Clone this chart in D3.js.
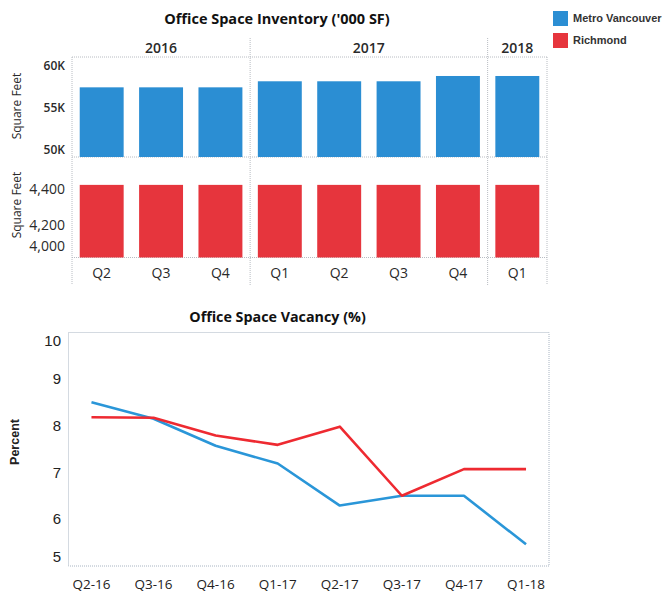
<!DOCTYPE html>
<html>
<head>
<meta charset="utf-8">
<script src="https://cdn.jsdelivr.net/npm/d3@7"></script>
<style>
  html, body { margin: 0; padding: 0; background: #fff; }
  svg { display: block; }
</style>
</head>
<body>
<svg id="chart" width="662" height="592"></svg>
<script>
// ---- Data ----
const quarters = ["Q2", "Q3", "Q4", "Q1", "Q2", "Q3", "Q4", "Q1"];
const quarterYears = ["2016", "2016", "2016", "2017", "2017", "2017", "2017", "2018"];
const yearGroups = ["2016", "2017", "2018"];
const metroInventory = [57460, 57460, 57460, 58180, 58180, 58180, 58810, 58810];
const richmondInventory = [4424, 4424, 4424, 4424, 4424, 4424, 4424, 4424];
const metroTicks = [50000, 55000, 60000];
const richmondTicks = [4000, 4200, 4400];

const periods = ["Q2-16", "Q3-16", "Q4-16", "Q1-17", "Q2-17", "Q3-17", "Q4-17", "Q1-18"];
const metroVacancy = [8.5, 8.15, 7.57, 7.19, 6.29, 6.5, 6.5, 5.46];
const richmondVacancy = [8.18, 8.17, 7.79, 7.59, 7.98, 6.5, 7.07, 7.07];
const vacancyTicks = [5, 6, 7, 8, 9, 10];

const seriesNames = ["Metro Vancouver", "Richmond"];

// ---- Style ----
const BLUE = "#2b8ed3", RED = "#e6353d";
const LINE_BLUE = "#2a96d8", LINE_RED = "#ee2a31";
const TXT = "#2a2a2a";
const GRID = "#b8bcc2";
const SANS = "'Open Sans', sans-serif";
const ARIAL = "'Liberation Sans', Arial, sans-serif";

const svg = d3.select("#chart");

// ================= Top chart: inventory =================
const L = 72, R = 547;
const topY0 = 57, midY = 157, botY = 257.5;

svg.append("text").attr("x", 277).attr("y", 24)
  .attr("text-anchor", "middle").attr("font-family", SANS).attr("font-weight", 700)
  .attr("font-size", 14.5).attr("fill", "#111")
  .text("Office Space Inventory ('000 SF)");

const idx = d3.range(quarters.length);
const xb = d3.scaleBand().domain(idx).range([L, R]).paddingInner(0.26).paddingOuter(0.13);
const yMetro = d3.scaleLinear().domain([49170, 61070]).range([midY, topY0]);
const yRich = d3.scaleLinear().domain([4015, 4581]).range([botY, midY]);

// year headers
yearGroups.forEach(yr => {
  const members = idx.filter(i => quarterYears[i] === yr);
  const x0 = xb(members[0]) - xb.step() * xb.paddingInner() / 2;
  const x1 = xb(members[members.length - 1]) + xb.bandwidth() + xb.step() * xb.paddingInner() / 2;
  svg.append("text").attr("x", (x0 + x1) / 2).attr("y", 53)
    .attr("text-anchor", "middle").attr("font-family", SANS).attr("font-size", 14)
    .attr("font-weight", 600).attr("fill", TXT).text(yr);
});

// separators
const sepXs = [L];
yearGroups.forEach(yr => {
  const members = idx.filter(i => quarterYears[i] === yr);
  const last = members[members.length - 1];
  sepXs.push(last === quarters.length - 1 ? R : xb(last) + xb.bandwidth() + xb.step() * xb.paddingInner() / 2);
});
const grid = svg.append("g").attr("stroke", GRID).attr("stroke-width", 1)
  .attr("stroke-dasharray", "1,1").attr("fill", "none");
sepXs.forEach((sx, i) => {
  const top = (i === 0 || i === sepXs.length - 1) ? topY0 : 38;
  grid.append("line").attr("x1", sx).attr("x2", sx).attr("y1", top).attr("y2", 285);
});
[topY0, midY, botY].forEach(yy => {
  grid.append("line").attr("x1", L).attr("x2", R).attr("y1", yy).attr("y2", yy);
});

// bars
svg.append("g").selectAll("rect").data(idx).join("rect")
  .attr("x", i => xb(i)).attr("width", xb.bandwidth())
  .attr("y", i => yMetro(metroInventory[i]))
  .attr("height", i => midY - yMetro(metroInventory[i]))
  .attr("fill", BLUE);
svg.append("g").selectAll("rect").data(idx).join("rect")
  .attr("x", i => xb(i)).attr("width", xb.bandwidth())
  .attr("y", i => yRich(richmondInventory[i]))
  .attr("height", i => botY - yRich(richmondInventory[i]))
  .attr("fill", RED);

// y tick labels
svg.append("g").selectAll("text").data(metroTicks).join("text")
  .attr("x", 65).attr("y", d => Math.min(Math.max(yMetro(d), topY0 + 6), midY - 6))
  .attr("dy", "0.35em").attr("text-anchor", "end")
  .attr("font-family", SANS).attr("font-size", 12).attr("font-weight", 600).attr("fill", TXT)
  .text(d => (d / 1000) + "K");
const commaFmt = d3.format(",");
svg.append("g").selectAll("text").data(richmondTicks).join("text")
  .attr("x", 65).attr("y", d => Math.min(Math.max(yRich(d), midY + 8), botY - 11))
  .attr("dy", "0.35em").attr("text-anchor", "end")
  .attr("font-family", SANS).attr("font-size", 14).attr("fill", TXT)
  .text(d => commaFmt(d));

// y titles
svg.append("text").attr("transform", "translate(21,106) rotate(-90)")
  .attr("text-anchor", "middle").attr("font-family", SANS).attr("font-size", 12)
  .attr("fill", TXT).text("Square Feet");
svg.append("text").attr("transform", "translate(21,205) rotate(-90)")
  .attr("text-anchor", "middle").attr("font-family", SANS).attr("font-size", 12)
  .attr("fill", TXT).text("Square Feet");

// x quarter labels
svg.append("g").selectAll("text").data(idx).join("text")
  .attr("x", i => xb(i) + xb.bandwidth() / 2).attr("y", 273)
  .attr("dy", "0.35em").attr("text-anchor", "middle")
  .attr("font-family", SANS).attr("font-size", 14).attr("fill", TXT)
  .text(i => quarters[i]);

// legend
const legendColors = [BLUE, RED];
const lg = svg.append("g");
seriesNames.forEach((name, i) => {
  lg.append("rect").attr("x", 553).attr("y", 11 + i * 22).attr("width", 15).attr("height", 15)
    .attr("fill", legendColors[i]);
  lg.append("text").attr("x", 573).attr("y", 18.5 + i * 22).attr("dy", "0.35em")
    .attr("font-family", ARIAL).attr("font-weight", 700).attr("font-size", 11)
    .attr("fill", "#333").text(name);
});

// ================= Bottom chart: vacancy =================
const pL = 68.5, pR = 549, pT = 332.5, pB = 566;
svg.append("text").attr("x", 277.5).attr("y", 322)
  .attr("text-anchor", "middle").attr("font-family", SANS).attr("font-weight", 700)
  .attr("font-size", 14.3).attr("fill", "#111")
  .text("Office Space Vacancy (%)");

svg.append("rect").attr("x", pL).attr("y", pT).attr("width", pR - pL).attr("height", pB - pT)
  .attr("fill", "none").attr("stroke", "#a8b4c2").attr("stroke-width", 1)
  .attr("stroke-dasharray", "1,1");

const xp = d3.scalePoint().domain(periods).range([pL, pR]).padding(0.37);
const yv = d3.scaleLinear().domain([5, 10]).range([565.8, 332.3]);

svg.append("g").selectAll("text").data(vacancyTicks).join("text")
  .attr("x", 61).attr("y", d => Math.min(Math.max(yv(d), pT + 8), pB - 9))
  .attr("dy", "0.35em").attr("text-anchor", "end")
  .attr("font-family", ARIAL).attr("font-size", 15).attr("fill", "#222")
  .text(d => d);

svg.append("text").attr("transform", "translate(18.5,442) rotate(-90)")
  .attr("text-anchor", "middle").attr("font-family", ARIAL).attr("font-weight", 700)
  .attr("font-size", 12.5).attr("fill", "#222").text("Percent");

svg.append("g").selectAll("text").data(periods).join("text")
  .attr("x", d => xp(d)).attr("y", 584)
  .attr("dy", "0.35em").attr("text-anchor", "middle")
  .attr("font-family", SANS).attr("font-size", 13.5).attr("fill", "#222")
  .text(d => d);

const line = d3.line().x((v, i) => xp(periods[i])).y(v => yv(v));
svg.append("path").datum(metroVacancy).attr("d", line)
  .attr("fill", "none").attr("stroke", LINE_BLUE).attr("stroke-width", 2.6)
  .attr("stroke-linejoin", "round");
svg.append("path").datum(richmondVacancy).attr("d", line)
  .attr("fill", "none").attr("stroke", LINE_RED).attr("stroke-width", 2.6)
  .attr("stroke-linejoin", "round");
</script>
</body>
</html>
